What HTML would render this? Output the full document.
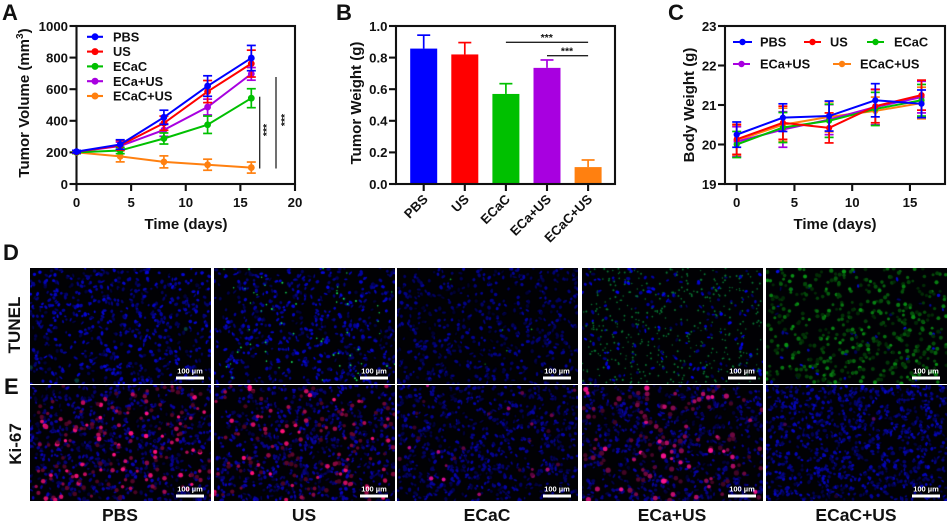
<!DOCTYPE html>
<html lang="en">
<head>
<meta charset="utf-8">
<title>Tumor treatment results</title>
<style>
html,body{margin:0;padding:0;background:#fff;}
#figure{position:relative;width:948px;height:524px;overflow:hidden;background:#fff;font-family:"Liberation Sans",sans-serif;}
#figure canvas{position:absolute;display:block;}
#charts{position:absolute;left:0;top:0;}
#charts text{font-family:"Liberation Sans",sans-serif;font-weight:bold;fill:#111;}
</style>
</head>
<body>
<div id="figure">
<svg id="charts" width="948" height="524" viewBox="0 0 948 524" xmlns="http://www.w3.org/2000/svg"></svg>
</div>
<script>
/* ---------- Panel A data ---------- */
const tumorDays = [0, 4, 8, 12, 16];
const tumorXTicks = [0, 5, 10, 15, 20];
const tumorYTicks = [0, 200, 400, 600, 800, 1000];
const groupNames = ["PBS", "US", "ECaC", "ECa+US", "ECaC+US"];
const volumePBS = [205, 250, 422, 620, 797];
const volumeUS = [203, 245, 385, 585, 762];
const volumeECaC = [200, 212, 288, 375, 543];
const volumeECaUS = [203, 240, 342, 487, 697];
const volumeECaCUS = [200, 175, 140, 122, 104];
const volumeErrPBS = [8, 30, 45, 65, 80];
const volumeErrUS = [8, 30, 45, 70, 85];
const volumeErrECaC = [8, 20, 35, 55, 60];
const volumeErrECaUS = [8, 25, 40, 50, 40];
const volumeErrECaCUS = [8, 35, 38, 35, 35];

/* ---------- Panel B data ---------- */
const weightYTicks = [0, 0.2, 0.4, 0.6, 0.8, 1.0];
const tumorWeight = [0.857, 0.82, 0.57, 0.735, 0.107];
const tumorWeightErr = [0.085, 0.075, 0.065, 0.05, 0.045];

/* ---------- Panel C data ---------- */
const bodyXTicks = [0, 5, 10, 15];
const bodyYTicks = [19, 20, 21, 22, 23];
const bodyPBS = [20.25, 20.68, 20.72, 21.12, 21.03];
const bodyUS = [20.13, 20.55, 20.42, 20.97, 21.25];
const bodyECaC = [20.0, 20.43, 20.6, 20.9, 21.12];
const bodyECaUS = [20.07, 20.38, 20.63, 20.95, 21.2];
const bodyECaCUS = [20.1, 20.5, 20.7, 20.85, 21.05];
const bodyErrPBS = [0.32, 0.35, 0.38, 0.42, 0.35];
const bodyErrUS = [0.38, 0.42, 0.38, 0.42, 0.38];
const bodyErrECaC = [0.33, 0.38, 0.42, 0.42, 0.4];
const bodyErrECaUS = [0.38, 0.45, 0.38, 0.45, 0.4];
const bodyErrECaCUS = [0.38, 0.42, 0.38, 0.35, 0.4];

const volumeSeries = [volumePBS, volumeUS, volumeECaC, volumeECaUS, volumeECaCUS];
const volumeErrors = [volumeErrPBS, volumeErrUS, volumeErrECaC, volumeErrECaUS, volumeErrECaCUS];
const bodySeries = [bodyPBS, bodyUS, bodyECaC, bodyECaUS, bodyECaCUS];
const bodyErrors = [bodyErrPBS, bodyErrUS, bodyErrECaC, bodyErrECaUS, bodyErrECaCUS];
const groupColors = ["#0000ff", "#ff0000", "#00c000", "#a800e0", "#ff8010"];
const rowNames = ["TUNEL", "Ki-67"];

/* ---------- Axis functions ---------- */
const xA = v => 76.5 + v * 218.5 / 20;
const yA = v => 184 - v * 158 / 1000;
const xBCat = i => 423.7 + i * 41.1;
const yB = v => 184 - v * 158;
const xC = v => 736.7 + v * 11.55;
const yC = v => 184 - (v - 19) * 158 / 4;

const svg = document.getElementById('charts');
const NS = 'http://www.w3.org/2000/svg';
function mk(tag, attrs, parent) {
  const e = document.createElementNS(NS, tag);
  for (const k in attrs) e.setAttribute(k, attrs[k]);
  (parent || svg).appendChild(e);
  return e;
}
function line(x1, y1, x2, y2, color, w, parent) {
  return mk('line', {x1, y1, x2, y2, stroke: color, 'stroke-width': w}, parent);
}
function label(str, x, y, size, anchor, parent, rot) {
  const t = mk('text', {x, y, 'font-size': size, 'text-anchor': anchor}, parent);
  if (rot !== undefined) t.setAttribute('transform', 'rotate(' + rot + ' ' + x + ' ' + y + ')');
  t.textContent = str;
  return t;
}
function slug(s) { return s.toLowerCase().replace(/[^a-z0-9]+/g, '-').replace(/^-|-$/g, ''); }

function drawFrame(name, left, right, top, bottom) {
  const g = mk('g', {});
  
  
  mk('rect', {x: left, y: top, width: right - left, height: bottom - top, fill: 'none', stroke: '#111', 'stroke-width': 2.1}, g);
}
function drawYTicks(name, ticks, yFn, left, fmt) {
  const g = mk('g', {});
  
  
  ticks.forEach(v => {
    line(left - 7, yFn(v), left, yFn(v), '#111', 2.1, g);
    label(fmt(v), left - 8.5, yFn(v) + 4.8, 13.2, 'end', g);
  });
}
function drawXTicks(name, ticks, xFn, bottom) {
  const g = mk('g', {});
  
  
  ticks.forEach(v => {
    line(xFn(v), bottom, xFn(v), bottom + 7, '#111', 2.1, g);
    label(String(v), xFn(v), bottom + 23, 13.2, 'middle', g);
  });
}
function drawSeries(name, i, xs, values, errors, xFn, yFn, capHalf, r) {
  const color = groupColors[i];
  const g = mk('g', {});
  
  
  xs.forEach((d, k) => {
    const x = xFn(d), hi = yFn(values[k] + errors[k]), lo = yFn(values[k] - errors[k]);
    line(x, hi, x, lo, color, 1.7, g);
    line(x - capHalf, hi, x + capHalf, hi, color, 1.7, g);
    line(x - capHalf, lo, x + capHalf, lo, color, 1.7, g);
  });
  mk('polyline', {points: xs.map((d, k) => xFn(d) + ',' + yFn(values[k])).join(' '), fill: 'none', stroke: color, 'stroke-width': 2}, g);
  xs.forEach((d, k) => {
    mk('circle', {cx: xFn(d), cy: yFn(values[k]), r, fill: color}, g);
  });
}
function drawLegendEntry(name, i, x1, x2, textX, y, r) {
  const g = mk('g', {});
  
  
  line(x1, y, x2, y, groupColors[i], 2.1, g);
  mk('circle', {cx: (x1 + x2) / 2, cy: y, r, fill: groupColors[i]}, g);
  label(groupNames[i], textX, y + 4.6, 12.8, 'start', g);
}
function panelLetter(str, x, y) {
  const t = label(str, x, y, 22, 'start');
  
  
}
function axisTitle(name, str, x, y, rot) {
  const t = label(str, x, y, 15, 'middle', svg, rot);
  
  
  return t;
}
function sigBar(name, x1, y1, x2, y2) {
  const l = line(x1, y1, x2, y2, '#222', 1.3);
  
  
}
function sigStars(name, x, y, rot) {
  const t = label('***', x, y, 10.5, 'middle', svg, rot);
  
  
}

/* ---------- Panel A ---------- */
panelLetter('A', 2, 20);
drawFrame('tumor-volume', xA(0), xA(20), yA(1000), yA(0));
drawYTicks('tumor-volume', tumorYTicks, yA, xA(0), v => String(v));
drawXTicks('tumor-volume', tumorXTicks, xA, yA(0));
[4, 3, 2, 1, 0].forEach(i => drawSeries('tumor-volume', i, tumorDays, volumeSeries[i], volumeErrors[i], xA, yA, 4.5, 3.4));
const titleA = axisTitle('tumor-volume-y-title', 'Tumor Volume (mm', 29, 103, -90);
const supA = mk('tspan', {dy: -6, 'font-size': 10}, titleA);
supA.textContent = '3';
const closeA = mk('tspan', {dy: 6}, titleA);
closeA.textContent = ')';
axisTitle('tumor-volume-x-title', 'Time (days)', 186, 229);
groupNames.forEach((n, i) => drawLegendEntry('tumor-volume', i, 87, 103, 113, 36.8 + i * 14.8, 3.5));
sigBar('significance-bar-ecac', 259.7, 96.7, 259.7, 168.5);
sigBar('significance-bar-pbs', 276, 77, 276, 168.5);
sigStars('significance-stars-ecac', 270, 130, -90);
sigStars('significance-stars-pbs', 288, 120, -90);

/* ---------- Panel B ---------- */
panelLetter('B', 336, 20);
const gBars = mk('g', {});


tumorWeight.forEach((v, i) => {
  const x = xBCat(i), c = groupColors[i], top = yB(v), hi = yB(v + tumorWeightErr[i]);
  line(x, top, x, hi, c, 1.7, gBars);
  line(x - 6.5, hi, x + 6.5, hi, c, 1.7, gBars);
  const bar = mk('rect', {x: x - 13.5, y: top, width: 27, height: yB(0) - top, fill: c}, gBars);
  
  
});
drawFrame('tumor-weight', 396, 615, yB(1), yB(0));
drawYTicks('tumor-weight', weightYTicks, yB, 396, v => v.toFixed(1));
const gBX = mk('g', {});


groupNames.forEach((n, i) => {
  const x = xBCat(i);
  line(x, yB(0), x, yB(0) + 7, '#111', 2.1, gBX);
  label(n, x + 5, 200, 13.2, 'end', gBX, -45);
});
axisTitle('tumor-weight-y-title', 'Tumor Weight (g)', 361, 103, -90);
sigBar('significance-bar-ecac-vs-ecac-us', xBCat(2), 42.3, xBCat(4), 42.3);
sigBar('significance-bar-eca-us-vs-ecac-us', xBCat(3), 55.7, xBCat(4), 55.7);
sigStars('significance-stars-top', 546.7, 41, 0);
sigStars('significance-stars-lower', 567, 54.5, 0);

/* ---------- Panel C ---------- */
panelLetter('C', 668, 20);
drawFrame('body-weight', 725, 945, yC(23), yC(19));
drawYTicks('body-weight', bodyYTicks, yC, 725, v => String(v));
drawXTicks('body-weight', bodyXTicks, xC, yC(19));
[4, 3, 2, 1, 0].forEach(i => drawSeries('body-weight', i, tumorDays, bodySeries[i], bodyErrors[i], xC, yC, 4.5, 3.1));
axisTitle('body-weight-y-title', 'Body Weight (g)', 694, 105, -90);
axisTitle('body-weight-x-title', 'Time (days)', 835, 229);
drawLegendEntry('body-weight', 0, 733, 752, 760, 42, 3.2);
drawLegendEntry('body-weight', 1, 804, 821, 830, 42, 3.2);
drawLegendEntry('body-weight', 2, 867, 884, 894, 42, 3.2);
drawLegendEntry('body-weight', 3, 733, 750, 760, 64, 3.2);
drawLegendEntry('body-weight', 4, 833, 851, 860, 64, 3.2);

/* ---------- Panels D / E micrographs ---------- */
panelLetter('D', 3, 260);
panelLetter('E', 4, 394);
const panelLefts = [30, 214, 397, 582, 766];
const panelCenters = [120, 304, 487, 672, 856];
const panelW = 181;
const rowTops = [267.5, 385];
const rowH = 115.5;
/* b/bc: nucleus count and colour; a/ac/ar: accent count, colour and radius; ak: fixed accent brightness */
const micrographs = [
  [{b:640,bc:[6,6,225],a:3,ac:[20,170,170],ar:2.2},{b:560,bc:[6,6,225],a:60,ac:[20,220,90],ar:0.9,ak:1},{b:560,bc:[4,4,170],a:5,ac:[20,170,50],ar:0.9,ak:1},{b:170,bc:[4,4,255],a:420,ac:[10,140,60],ar:0.9,ak:0.85},{b:40,bc:[6,12,235],a:500,ac:[8,125,18],ar:1.9}],
  [{b:720,bc:[10,4,190],a:170,ac:[235,15,115],ar:2.1},{b:720,bc:[10,4,195],a:140,ac:[235,15,110],ar:2.1},{b:740,bc:[6,4,180],a:28,ac:[190,10,130],ar:1.9},{b:740,bc:[8,4,175],a:130,ac:[210,15,120],ar:2.3},{b:950,bc:[6,6,200],a:3,ac:[100,10,130],ar:1.8}]
];
function rngFor(seed) {
  let s = seed >>> 0;
  return function () {
    s = (s + 0x6D2B79F5) >>> 0;
    let t = s;
    t = Math.imul(t ^ (t >>> 15), t | 1);
    t ^= t + Math.imul(t ^ (t >>> 7), t | 61);
    return ((t ^ (t >>> 14)) >>> 0) / 4294967296;
  };
}
function paintMicrograph(cv, spec, seed) {
  const ctx = cv.getContext('2d'), W = cv.width, H = cv.height, rnd = rngFor(seed);
  ctx.fillStyle = '#010104';
  ctx.fillRect(0, 0, W, H);
  ctx.filter = 'blur(0.6px)';
  for (let n = 0; n < spec.b; n++) {
    const k = 0.25 + rnd() * 0.75;
    ctx.fillStyle = 'rgb(' + spec.bc.map(c => Math.round(c * k)).join(',') + ')';
    ctx.beginPath();
    ctx.ellipse(rnd() * W, rnd() * H, 1.2 + rnd() * 1.2, 0.8 + rnd() * 1, rnd() * 3.14, 0, 6.3);
    ctx.fill();
  }
  for (let n = 0; n < spec.a; n++) {
    const q = rnd();
    const k = spec.ak || (0.3 + q * q * 0.9);
    ctx.fillStyle = 'rgb(' + spec.ac.map(c => Math.min(255, Math.round(c * k))).join(',') + ')';
    ctx.beginPath();
    ctx.arc(rnd() * W, rnd() * H, spec.ar * (0.75 + rnd() * 0.4), 0, 6.3);
    ctx.fill();
  }
  ctx.filter = 'none';
}
const figure = document.getElementById('figure');
rowNames.forEach((rowName, r) => {
  groupNames.forEach((groupName, c) => {
    const cv = document.createElement('canvas');
    cv.width = panelW;
    cv.height = Math.round(rowH);
    cv.style.left = panelLefts[c] + 'px';
    cv.style.top = rowTops[r] + 'px';
    
    
    figure.insertBefore(cv, svg);
    paintMicrograph(cv, micrographs[r][c], 1000 + r * 37 + c * 101);
    const gs = mk('g', {});
    
    
    const sx = panelLefts[c] + 146, sy = r === 0 ? 376.5 : 494.5;
    mk('rect', {x: sx, y: sy, width: 28, height: 3, fill: '#fff'}, gs);
    const st = label('100 µm', sx + 14, sy - 3, 7.5, 'middle', gs);
    st.style.fill = '#fff';
  });
});
rowNames.forEach((rowName, r) => {
  const t = label(rowName, 20 + (r ? 1 : 0), r === 0 ? 325 : 444, 17, 'middle', svg, -90);
  
  
});
groupNames.forEach((groupName, c) => {
  const t = label(groupName, panelCenters[c], 521, 17.5, 'middle');
  
  
});
</script>
</body>
</html>
